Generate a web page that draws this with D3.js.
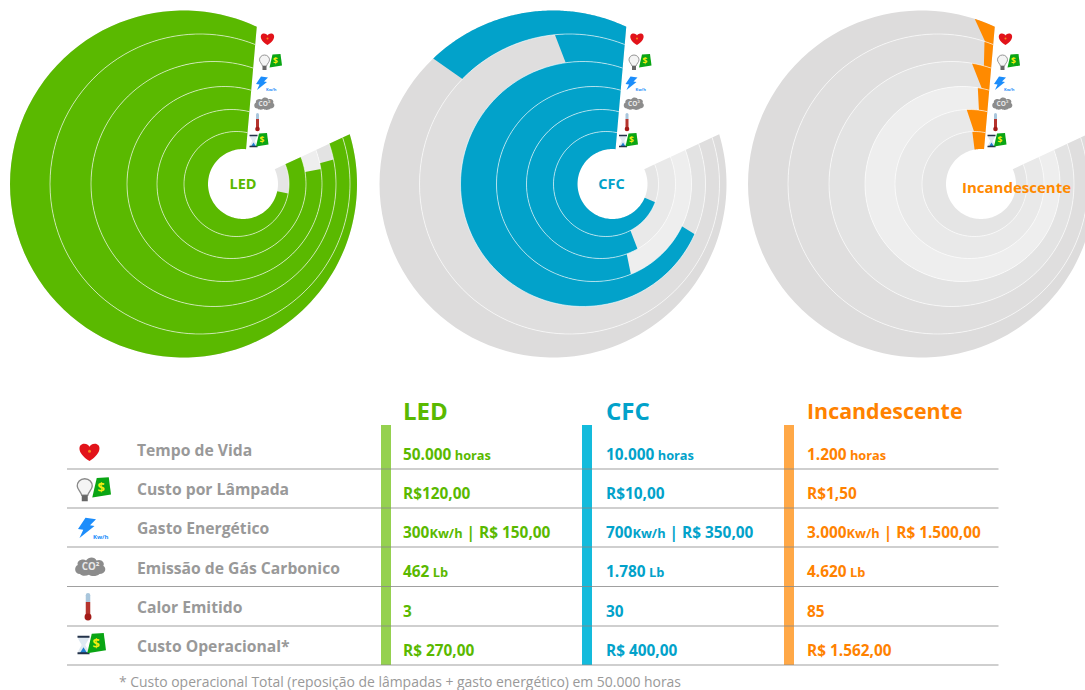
<!DOCTYPE html>
<html>
<head>
<meta charset="utf-8">
<script src="https://d3js.org/d3.v7.min.js"></script>
<style>
    html, body { margin: 0; padding: 0; background: #fff; overflow: hidden; }
    svg { display: block; font-family: "Open Sans", sans-serif; }
</style>
</head>
<body>
<div id="chart_div"></div>
<script>
// rows, outermost ring first
const rowLabels = ["Tempo de Vida", "Custo por Lâmpada", "Gasto Energético", "Emissão de Gás Carbonico", "Calor Emitido", "Custo Operacional*"];
const seriesNames = ["LED", "CFC", "Incandescente"];

// share of the sweep filled in each ring
const ledShare = [1, 1, 0.967, 0.953, 1, 0.877];
const cfcShare = [0.2, 0.087, 0.812, 0.655, 0.687, 0.84];
const incShare = [0.024, 0.012, 0.031, 0.023, 0.053, 0.048];
// the orange pieces have slanted ends, this is the share along their inner edge
const incShareInner = [0.011, 0.012, 0.015, 0.022, 0.042, 0.052];

// table cells: odd parts are set in the small size
const ledCells = [["50.000", " horas"], ["R$120,00"], ["300", "Kw/h", " | R$ 150,00"], ["462", " Lb"], ["3"], ["R$ 270,00"]];
const cfcCells = [["10.000", " horas"], ["R$10,00"], ["700", "Kw/h", " | R$ 350,00"], ["1.780", " Lb"], ["30"], ["R$ 400,00"]];
const incCells = [["1.200", " horas"], ["R$1,50"], ["3.000", "Kw/h", " | R$ 1.500,00"], ["4.620", " Lb"], ["85"], ["R$ 1.562,00"]];

const footnote = "* Custo operacional Total (reposição de lâmpadas + gasto energético) em 50.000 horas";

const width = 1085;
const height = 690;

const svg = d3.select("#chart_div")
    .append("svg")
    .attr("width", width)
    .attr("height", height);

const rad = (deg) => deg * Math.PI / 180;

// fill runs counter clockwise from just right of north
const angle = d3.scaleLinear().domain([0, 1]).range([rad(5), rad(-295)]);

// the ring edges are circles that do not share a centre
const edgeShift = [0, -6.5, -11.5, -18.5, -29.5, -43, -59.5];
const edgeRadius = [35, 52.5, 74.5, 97.5, 122.5, 150, 173.5];
const ringGrey = ["#dddcdc", "#dfdede", "#e3e3e3", "#eeeeee", "#e9e9e9", "#e5e5e5"];

const radiusAt = (k, a) => {
    const d = edgeShift[k];
    const r = edgeRadius[k];
    const s = Math.sin(a);
    return d * s + Math.sqrt(d * d * s * s - d * d + r * r);
};

const radial = d3.lineRadial().angle(p => p[0]).radius(p => p[1]);

const edgePoints = (k, from, to) => d3.range(0, 121)
    .map(n => from + (to - from) * n / 120)
    .map(a => [a, radiusAt(k, a)]);

// ring 0 is the outer one, it sits between edges 6 and 5
const ringPath = (ring, outerShare, innerShare) => radial(
    edgePoints(6 - ring, angle(0), angle(outerShare))
        .concat(edgePoints(5 - ring, angle(innerShare), angle(0)))
) + "Z";

const charts = [
    { x: 243, color: "#5ab900", share: ledShare, inner: ledShare, labelX: 0, labelY: 5, labelSize: 14.5 },
    { x: 612.5, color: "#02a2ca", share: cfcShare, inner: cfcShare, labelX: -1, labelY: 5, labelSize: 14.5 },
    { x: 981, color: "#ff8a00", share: incShare, inner: incShareInner, labelX: 35.5, labelY: 8.5, labelSize: 15 }
];

// ---- icons, drawn around their own origin ----
const moneyIcon = (g, x, y) => {
    const m = g.append("g").attr("transform", `translate(${x},${y})`);
    m.append("path").attr("d", "M-3,-6.5L5,-7L6.5,4.5L-6,6.5Z").attr("fill", "#0aa514");
    m.append("text").attr("y", 3).attr("text-anchor", "middle")
        .attr("font-size", 8.5).attr("font-weight", 700).attr("fill", "#f3ee12").text("$");
};

const icons = [
    (g) => {
        g.append("path")
            .attr("d", "M0,6C-9,0.5 -7.5,-5.5 -3.6,-5.5C-1.6,-5.5 -0.4,-4.3 0,-3.5C0.4,-4.3 1.6,-5.5 3.6,-5.5C7.5,-5.5 9,0.5 0,6Z")
            .attr("fill", "#e2131a");
        g.append("circle").attr("cy", -0.5).attr("r", 1).attr("fill", "#f58a1f");
    },
    (g) => {
        g.append("path")
            .attr("transform", "translate(-5.5,0)")
            .attr("d", "M0,-7.5C3.2,-7.5 5,-5 5,-2.7C5,-0.5 2.8,1 2,3.5H-2C-2.8,1 -5,-0.5 -5,-2.7C-5,-5 -3.2,-7.5 0,-7.5Z")
            .attr("fill", "#f4f4f4").attr("stroke", "#8a8a8a").attr("stroke-width", 0.9);
        g.append("rect").attr("x", -7.5).attr("y", 3.5).attr("width", 4).attr("height", 4).attr("fill", "#666");
        moneyIcon(g, 5.5, -1.5);
    },
    (g) => {
        g.append("path").attr("d", "M-1,-7.5L6,-6.5L2,-2.5L5,-2L-5,6L-2.5,0.5L-6,0Z").attr("fill", "#1c8dfb");
        g.append("text").attr("x", 4).attr("y", 6.5).attr("font-size", 4).attr("font-weight", 700)
            .attr("fill", "#1c8dfb").text("Kw/h");
    },
    (g) => {
        g.append("path")
            .attr("d", "M-7,5C-11,5 -11,0 -8.5,-1C-9.5,-4 -5,-5.5 -3,-4C-1,-7 3,-6.5 4,-4C7,-5.5 10,-2.5 8.5,-0.5C11,1 10,5 6,5C4,7 0,6.5 -1,5.5C-3,6.5 -6,6.5 -7,5Z")
            .attr("fill", "#8c8c8c");
        g.append("text").attr("y", 2.5).attr("text-anchor", "middle").attr("font-size", 6.5)
            .attr("font-weight", 700).attr("fill", "#e8e8e8").text("CO²");
    },
    (g) => {
        g.append("rect").attr("x", -1.5).attr("y", -9).attr("width", 3).attr("height", 7)
            .attr("rx", 1.5).attr("fill", "#a9c6dc");
        g.append("rect").attr("x", -1.5).attr("y", -3).attr("width", 3).attr("height", 10).attr("fill", "#b5342d");
        g.append("circle").attr("cy", 7).attr("r", 2.3).attr("fill", "#a31b18");
    },
    (g) => {
        g.append("path").attr("d", "M-10.5,-5.5H-3.5V-4L-5.8,0L-3.5,4V5.5H-10.5V4L-8.2,0L-10.5,-4Z").attr("fill", "#dfe9f2");
        g.append("path").attr("d", "M-9.5,5.5L-7,1.5L-4.5,5.5Z").attr("fill", "#1f7fd0");
        g.append("path").attr("d", "M-11,-6.2H-3V-4.8H-11ZM-11,4.8H-3V6.2H-11Z").attr("fill", "#23324a");
        moneyIcon(g, 1.5, -1);
    }
];
// icon spots around each chart centre
const iconSpots = [[24.5, -145], [27, -121.5], [19, -100], [21.5, -80.5], [14.5, -62], [17.5, -43]];
const tableIconSpots = [[89.5, 452], [93, 490], [87, 529], [90.5, 566.5], [88, 606.5], [94, 645]];

charts.forEach((c, ci) => {
    const g = svg.append("g").attr("transform", `translate(${c.x},184)`);

    // grey track, then the coloured part
    g.selectAll("path.track").data(rowLabels).enter().append("path")
        .attr("class", "track")
        .attr("fill", (d, i) => ringGrey[i])
        .attr("d", (d, i) => ringPath(i, 1, 1));

    g.selectAll("path.fill").data(c.share).enter().append("path")
        .attr("class", "fill")
        .attr("fill", c.color)
        .attr("d", (d, i) => ringPath(i, d, c.inner[i]));

    // thin light lines between rings
    g.selectAll("path.sep").data(d3.range(1, 6)).enter().append("path")
        .attr("class", "sep")
        .attr("fill", "none")
        .attr("stroke", "#fff")
        .attr("stroke-opacity", 0.6)
        .attr("d", k => radial(edgePoints(k, angle(0), angle(1))));

    g.append("text")
        .attr("x", c.labelX)
        .attr("y", c.labelY)
        .attr("text-anchor", "middle")
        .attr("font-size", c.labelSize)
        .attr("font-weight", 700)
        .attr("fill", c.color)
        .text(seriesNames[ci]);

    iconSpots.forEach((p, i) => {
        icons[i](g.append("g").attr("transform", `translate(${p[0]},${p[1]})`));
    });
});

// ---- table ----
const rowLines = [469, 508, 547, 586.5, 626, 665];
const labelBase = [456, 495, 534, 574, 613, 652];
const cellBase = [460, 499, 538, 577, 617, 656];
const columns = [
    { bar: 381, x: 403, color: "#5ab900", barColor: "#95d14f", title: 24, titleY: 420, cells: ledCells },
    { bar: 582, x: 606, color: "#02a2ca", barColor: "#14bbdc", title: 24, titleY: 420, cells: cfcCells },
    { bar: 784, x: 807, color: "#ff8200", barColor: "#ffa847", title: 21.4, titleY: 419, cells: incCells }
];

columns.forEach((c, ci) => {
    svg.append("rect")
        .attr("x", c.bar).attr("y", 425)
        .attr("width", 10).attr("height", 240)
        .attr("fill", c.barColor);

    svg.append("text")
        .attr("x", c.x).attr("y", c.titleY)
        .attr("font-size", c.title)
        .attr("font-weight", 700)
        .attr("fill", c.color)
        .text(seriesNames[ci]);

    c.cells.forEach((parts, i) => {
        const t = svg.append("text")
            .attr("x", c.x).attr("y", cellBase[i])
            .attr("font-weight", 700)
            .attr("fill", c.color)
            .attr("xml:space", "preserve");
        parts.forEach((p, j) => {
            t.append("tspan")
                .attr("font-size", j % 2 ? 12.8 : 15.4)
                .text(p);
        });
    });
});

svg.selectAll("line.row").data(rowLines).enter().append("line")
    .attr("class", "row")
    .attr("x1", 67).attr("x2", 998.5)
    .attr("y1", d => d).attr("y2", d => d)
    .attr("stroke", "#888")
    .attr("stroke-opacity", 0.8);

svg.selectAll("text.row").data(rowLabels).enter().append("text")
    .attr("class", "row")
    .attr("x", 137)
    .attr("y", (d, i) => labelBase[i])
    .attr("font-size", 15.7)
    .attr("font-weight", 700)
    .attr("fill", "#999")
    .text(d => d);

tableIconSpots.forEach((p, i) => {
    icons[i](svg.append("g").attr("transform", `translate(${p[0]},${p[1]}) scale(1.5)`));
});

svg.append("text")
    .attr("x", 119).attr("y", 687)
    .attr("font-size", 13.95)
    .attr("fill", "#999")
    .text(footnote);
</script>
</body>
</html>
